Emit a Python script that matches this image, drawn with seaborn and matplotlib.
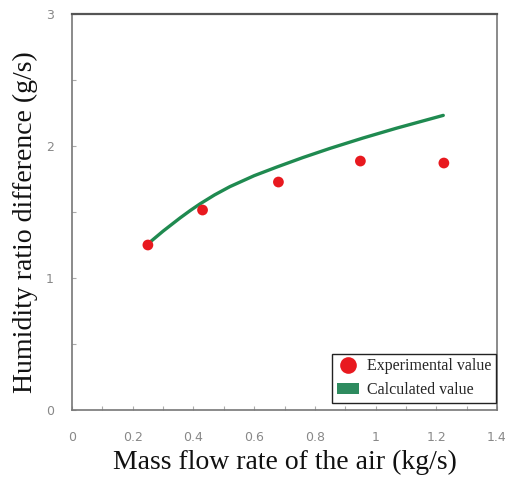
import matplotlib
matplotlib.use("Agg")
import matplotlib.pyplot as plt
import seaborn as sns
import pandas as pd
from matplotlib.patches import Patch
from matplotlib.lines import Line2D
from matplotlib.ticker import MultipleLocator

exp_x = [0.25, 0.43, 0.68, 0.95, 1.225]
exp_y = [1.25, 1.515, 1.727, 1.886, 1.871]

calc_x = [0.257, 0.30, 0.356, 0.39, 0.422, 0.47, 0.52, 0.60, 0.674, 0.76, 0.85, 0.958, 1.069, 1.15, 1.223]
calc_y = [1.272, 1.355, 1.455, 1.512, 1.562, 1.630, 1.692, 1.775, 1.840, 1.912, 1.982, 2.060, 2.135, 2.186, 2.232]

x_ticks = [0, 0.2, 0.4, 0.6, 0.8, 1, 1.2, 1.4]
x_tick_labels = ["0", "0.2", "0.4", "0.6", "0.8", "1", "1.2", "1.4"]
y_ticks = [0, 1, 2, 3]

sns.set_style("white")
fig = plt.figure(figsize=(5.05, 4.83), dpi=100)
ax = fig.add_axes([72/505, 1-410/483, 425/505, 396/483])

sns.lineplot(x=calc_x, y=calc_y, ax=ax, color="#1f8a50", linewidth=2.4, sort=True)
sns.scatterplot(x=exp_x, y=exp_y, ax=ax, color="#e8191f", s=60, edgecolor="none", zorder=3)

ax.set_xlim(0, 1.4)
ax.set_ylim(0, 3)
ax.set_xticks(x_ticks)
ax.set_xticklabels(x_tick_labels)
ax.set_yticks(y_ticks)
ax.xaxis.set_minor_locator(MultipleLocator(0.1))
ax.yaxis.set_minor_locator(MultipleLocator(0.5))
ax.tick_params(axis="both", which="both", direction="in", colors="#aaaaaa",
               labelcolor="#888888", labelsize=9, length=3, width=0.8,
               bottom=True, left=True, top=False, right=False)
ax.tick_params(axis="x", which="major", pad=15)
ax.tick_params(axis="y", which="major", pad=13)
for s in ax.spines.values():
    s.set_color("#777777")
    s.set_linewidth(1.2)
ax.spines["top"].set_color("#555555")
ax.spines["top"].set_linewidth(1.6)

serif = ["Liberation Serif", "DejaVu Serif"]
ax.set_xlabel("Mass flow rate of the air (kg/s)", fontsize=20, family=serif, color="#111111", labelpad=4)
ax.set_ylabel("Humidity ratio difference (g/s)", fontsize=20, family=serif, color="#111111", labelpad=4)
ax.yaxis.set_label_coords(-0.08, 0.475)

handles = [
    Line2D([0], [0], marker="o", linestyle="none", markerfacecolor="#e8191f",
           markeredgecolor="none", markersize=12, label="Experimental value"),
    Patch(facecolor="#2e8b5f", edgecolor="none", label="Calculated value"),
]
leg = ax.legend(handles=handles, loc="lower right", bbox_to_anchor=(0.998, 0.017),
                prop={"family": serif, "size": 11.5},
                frameon=True, fancybox=False, edgecolor="#222222", framealpha=1,
                borderaxespad=0, borderpad=0.3, handlelength=1.4, handletextpad=0.5,
                labelspacing=0.5)
leg.get_frame().set_linewidth(1.0)

fig.savefig("out.png", dpi=100)
